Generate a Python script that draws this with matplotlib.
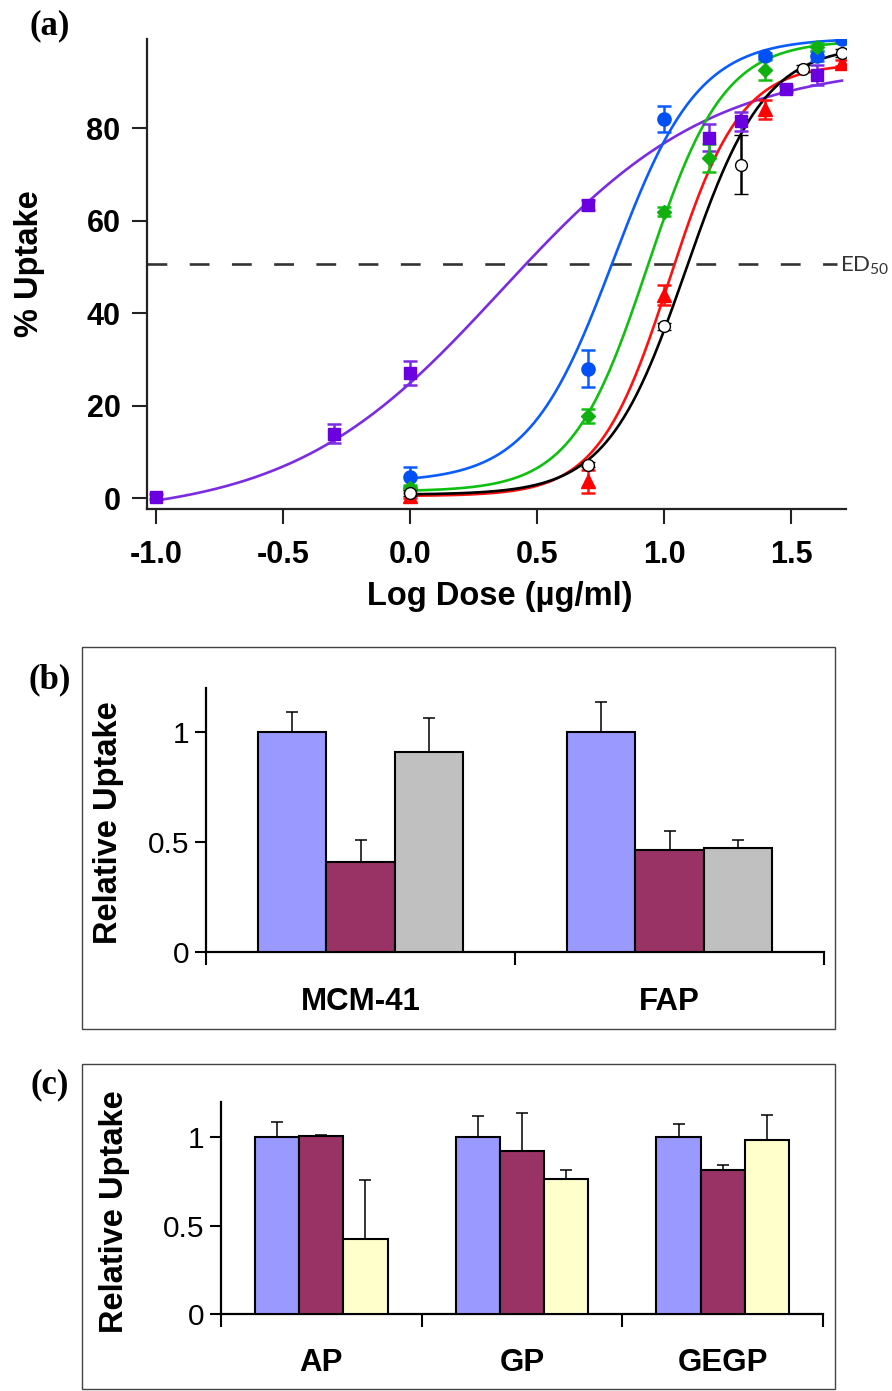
import numpy as np
import matplotlib
matplotlib.use("Agg")
import matplotlib.pyplot as plt
from matplotlib.patches import Rectangle

plt.rcParams['font.family'] = ['Liberation Sans', 'DejaVu Sans']
plt.rcParams['axes.unicode_minus'] = False

# ---- panel (a): dose response, log10 dose (ug/ml) ----
purple_x = [-1.0, -0.301, 0.0, 0.699, 1.176, 1.301, 1.477, 1.602]
purple_y = [0.4, 14.0, 27.1, 63.4, 78.0, 81.5, 88.5, 91.5]
purple_e = [0.6, 2.0, 2.5, 1.0, 3.0, 2.0, 0.6, 2.2]

blue_x = [0.0, 0.699, 1.0, 1.398, 1.602, 1.699]
blue_y = [4.6, 28.0, 82.1, 95.6, 95.6, 99.2]
blue_e = [2.2, 4.0, 2.8, 0.6, 1.0, 0.6]

green_x = [0.0, 0.699, 1.0, 1.176, 1.398, 1.602]
green_y = [2.3, 17.8, 62.0, 73.5, 92.6, 97.6]
green_e = [0.6, 1.5, 1.0, 3.0, 2.2, 0.8]

red_x = [0.0, 0.699, 1.0, 1.398, 1.699]
red_y = [0.6, 3.7, 44.0, 84.1, 94.1]
red_e = [0.6, 2.5, 2.2, 2.0, 0.6]

black_x = [0.0, 0.699, 1.0, 1.301, 1.544, 1.699]
black_y = [1.2, 7.3, 37.2, 72.1, 92.9, 96.3]
black_e = [0.6, 0.6, 0.8, 6.4, 0.8, 0.8]

# fitted 4PL curves: bottom, top, logEC50, hill
purple_fit = [-4.0, 94.0, 0.36, 1.05]
blue_fit = [3.5, 99.5, 0.80, 2.6]
green_fit = [1.5, 99.0, 0.935, 2.9]
red_fit = [0.5, 94.0, 1.02, 3.1]
black_fit = [0.8, 98.0, 1.085, 2.8]

ed50 = 50.7

# ---- panel (b) ----
groups_b = ['MCM-41', 'FAP']
b_blue = [1.0, 1.0]
b_blue_top = [1.09, 1.135]
b_red = [0.41, 0.465]
b_red_top = [0.51, 0.548]
b_gray = [0.91, 0.475]
b_gray_top = [1.062, 0.507]

# ---- panel (c) ----
groups_c = ['AP', 'GP', 'GEGP']
c_blue = [1.0, 1.0, 1.0]
c_blue_top = [1.087, 1.119, 1.077]
c_red = [1.009, 0.921, 0.817]
c_red_top = [1.013, 1.136, 0.843]
c_yel = [0.426, 0.766, 0.983]
c_yel_top = [0.76, 0.817, 1.126]

W, H = 892, 1391
fig = plt.figure(figsize=(W / 100, H / 100), dpi=100)


def box(l, t, r, b):
    # pixel box -> figure fraction [left, bottom, width, height]
    return [l / W, 1 - b / H, (r - l) / W, (b - t) / H]


def hill(p, x):
    b, t, c, h = p
    return b + (t - b) / (1 + 10 ** ((c - x) * h))


# ================= (a) =================
ax = fig.add_axes(box(147, 39, 846, 509))
series = [
    (purple_x, purple_y, purple_e, purple_fit, '#7B2BE2', '#6A00E0', 's', 9, -1.0),
    (blue_x, blue_y, blue_e, blue_fit, '#0A5CFF', '#0050F5', 'o', 9.5, 0.0),
    (green_x, green_y, green_e, green_fit, '#10C010', '#10B010', 'D', 7, 0.0),
    (red_x, red_y, red_e, red_fit, '#FF1010', '#FF0000', '^', 9.5, 0.0),
    (black_x, black_y, black_e, black_fit, '#000000', '#000000', 'o', 8.5, 0.0),
]
for xs, ys, es, fit, lc, mc, mk, ms, x0 in series:
    xx = np.linspace(x0, 1.699, 300)
    ax.plot(xx, hill(fit, xx), color=lc, lw=1.9, zorder=3)
    if mc == '#000000':
        ax.errorbar(xs, ys, yerr=es, fmt=mk, ms=ms, mfc='white', mec='black', mew=1.0,
                    ecolor='black', elinewidth=1.8, capsize=5, capthick=1.8, zorder=4)
    else:
        ax.errorbar(xs, ys, yerr=es, fmt=mk, ms=ms, color=mc, ecolor=lc,
                    elinewidth=1.8, capsize=5, capthick=1.8, zorder=4)

ax.plot([-1.035, 1.68], [ed50, ed50], color='#333333', lw=1.9, dashes=(7.5, 8.5), zorder=2)
ax.text(1.692, ed50 - 0.5, r'$\mathregular{ED_{50}}$', fontsize=16, color='#333333',
        family='Lato', va='center', ha='left', clip_on=False)

ax.set_xlim(-1.035, 1.715)
ax.set_ylim(-2.3, 99.3)
ax.set_xticks([-1.0, -0.5, 0.0, 0.5, 1.0, 1.5])
ax.set_xticklabels(['-1.0', '-0.5', '0.0', '0.5', '1.0', '1.5'])
ax.set_yticks([0, 20, 40, 60, 80])
for s in ['top', 'right']:
    ax.spines[s].set_visible(False)
for s in ['left', 'bottom']:
    ax.spines[s].set_linewidth(1.6)
    ax.spines[s].set_color('#222222')
ax.tick_params(direction='out', length=11, width=1.5, colors='#222222', labelsize=22)
ax.tick_params(axis='x', pad=11)
ax.tick_params(axis='y', pad=8)
for lab in ax.get_xticklabels() + ax.get_yticklabels():
    lab.set_fontweight('bold')
    lab.set_color('black')
fig.text(500 / W, 1 - 597 / H, 'Log Dose (µg/ml)', fontsize=23.5, fontweight='bold',
         ha='center', va='center')
fig.text(30 / W, 1 - 264 / H, '% Uptake', fontsize=23.5, fontweight='bold',
         ha='center', va='center', rotation=90)
fig.text(50 / W, 1 - 26 / H, '(a)', fontsize=25, fontweight='bold',
         family='Liberation Serif', ha='center', va='center')


# ================= bar panels =================
def bar_panel(frame, axbox, groups, vals, tops, colors, width, lab_off, ylab_xy, tag_xy, tag):
    fig.patches.append(Rectangle((frame[0] / W, 1 - frame[3] / H),
                                 (frame[2] - frame[0]) / W, (frame[3] - frame[1]) / H,
                                 transform=fig.transFigure, fill=False,
                                 edgecolor='#444444', lw=1.0))
    bx = fig.add_axes(box(*axbox))
    x = np.arange(len(groups))
    for i, (v, t, c) in enumerate(zip(vals, tops, colors)):
        up = np.array(t) - np.array(v)
        bx.bar(x + (i - 1) * width, v, width=width, color=c, edgecolor='black', lw=1.5,
               yerr=[np.zeros(len(v)), up], zorder=3,
               error_kw=dict(ecolor='black', elinewidth=1.1, capsize=4.5, capthick=1.1))
    bx.set_xlim(-0.5, len(groups) - 0.5)
    bx.set_ylim(0, 1.2)
    bx.set_yticks([0, 0.5, 1])
    bx.set_yticklabels(['0', '0.5', '1'])
    bx.set_xticks(np.arange(len(groups) + 1) - 0.5)
    bx.set_xticklabels([])
    for s in ['top', 'right']:
        bx.spines[s].set_visible(False)
    for s in ['left', 'bottom']:
        bx.spines[s].set_linewidth(1.6)
    bx.tick_params(direction='out', length=8, width=1.5, labelsize=21.5, pad=4)
    bx.tick_params(axis='x', length=9)
    tr = bx.get_xaxis_transform()
    for xi, g in zip(x, groups):
        bx.text(xi, lab_off, g, transform=tr, ha='center', va='center',
                fontsize=22.5, fontweight='bold')
    fig.text(ylab_xy[0] / W, 1 - ylab_xy[1] / H, 'Relative Uptake', fontsize=23.5,
             fontweight='bold', rotation=90, ha='center', va='center')
    fig.text(tag_xy[0] / W, 1 - tag_xy[1] / H, tag, fontsize=25, fontweight='bold',
             family='Liberation Serif', ha='center', va='center')


bar_panel((82, 647, 835, 1029), (206, 688, 824, 952), groups_b,
          [b_blue, b_red, b_gray], [b_blue_top, b_red_top, b_gray_top],
          ['#9999FF', '#993366', '#C0C0C0'], 0.222, -0.188, (109, 823), (50, 680), '(b)')

bar_panel((82, 1064, 835, 1389), (221, 1102, 823, 1314), groups_c,
          [c_blue, c_red, c_yel], [c_blue_top, c_red_top, c_yel_top],
          ['#9999FF', '#993366', '#FFFFCC'], 0.22, -0.231, (114, 1212), (50, 1085), '(c)')

fig.savefig('out.png', dpi=100)
